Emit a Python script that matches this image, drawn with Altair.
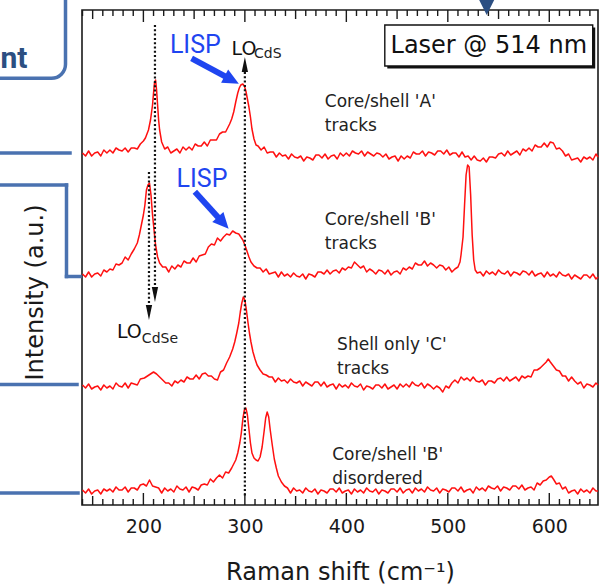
import altair as alt
import pandas as pd

# ---------------- data ----------------
# (Raman shift in cm^-1, stacked intensity in a.u.)
trace_a = [(140,352),(143,349),(146,354),(149,349),(152,352),(155,353),(158,349),(161,355),(164,352),(167,355),
           (170,352),(173,357),(176,355),(179,354),(182,357),(185,353),(188,357),(191,357),(194,356),(197,361),
           (200,364),(202,367),(205,375),(207,385),(209,400),(210,412),(211,423),(212,425),(213,415),(214,400),
           (215,385),(216,375),(218,363),(221,356),(224,358),(227,352),(230,354),(233,356),(236,352),(239,358),
           (242,355),(245,358),(248,355),(251,361),(254,359),(257,359),(260,363),(263,359),(266,365),(269,365),
           (272,365),(275,371),(278,373),(281,373),(283,377),(285,381),(287,386),(289,393),(291,403),(293,412),
           (294.5,417),(296,420),(298,421),(299.5,419),(301,414),(302.5,406),(304,398),(305.5,388),(307,376),(309,366),
           (311,360),(313,359),(316,355),(319,358),(322,352),(325,353),(328,353),(331,348),(334,352),(337,349),
           (340,350),(343,346),(346,351),(349,348),(352,347),(355,349),(358,344),(361,348),(364,347),(367,345),
           (370,350),(373,350),(376,347),(379,351),(382,346),(385,349),(388,350),(391,346),(394,352),(397,349),
           (400,352),(403,349),(406,354),(409,352),(412,351),(415,354),(418,349),(421,353),(424,351),(427,349),
           (430,352),(433,351),(436,348),(439,351),(442,346),(445,348),(448,349),(451,344),(454,349),(457,346),
           (460,349),(463,347),(466,353),(469,351),(472,351),(475,354),(478,349),(481,353),(484,352),(487,350),
           (490,354),(493,354),(496,351),(499,355),(502,350),(505,352),(508,352),(511,348),(514,353),(517,348),
           (520,349),(523,345),(526,349),(529,345),(532,344),(535,347),(538,343),(541,348),(544,348),(547,347),
           (550,351),(553,352),(556,349),(559,354),(562,350),(565,352),(568,354),(571,350),(574,356),(577,354),
           (580,357),(583,354),(586,360),(589,358),(592,358),(595,362),(598,358),(601,363),(604,362),(607,356),
           (610,357),(613,354),(616,349),(619,351),(622,345),(625,346),(628,347),(631,343),(634,348),(637,346),
           (640,348),(643,345),(646,351),(648,348)]

trace_b = [(140,231),(143,228),(146,233),(149,228),(152,231),(155,232),(158,229),(161,235),(164,233),(167,236),
           (170,235),(173,241),(176,240),(179,242),(182,248),(185,245),(188,251),(191,256),(194,262),(196,270),
           (198,280),(200,290),(201.5,300),(203,315),(204.5,320),(206,322),(207.5,310),(209,290),(210.5,275),(212,260),
           (214,248),(216,242),(219,238),(222,238),(225,233),(228,239),(231,236),(234,240),(237,238),(240,244),
           (243,242),(246,242),(249,247),(252,243),(255,249),(258,250),(261,251),(264,258),(267,261),(270,260),
           (273,267),(276,264),(279,268),(282,271),(285,270),(288,274),(291,272),(294,271),(296,268),(298,265),
           (300,260),(302,254),(304,248),(306,243),(309,239),(312,237),(315,237),(318,233),(321,236),(324,231),
           (327,232),(330,233),(333,228),(336,233),(339,229),(342,231),(345,228),(348,232),(351,229),(354,228),
           (357,231),(360,226),(363,231),(366,230),(369,228),(372,233),(375,233),(378,231),(381,235),(384,231),
           (387,234),(390,235),(393,232),(396,237),(399,235),(402,238),(405,237),(408,243),(411,240),(414,237),
           (417,239),(420,233),(423,236),(426,234),(429,231),(432,235),(435,234),(438,231),(441,235),(444,230),
           (447,233),(450,234),(453,231),(456,237),(459,235),(462,238),(465,236),(468,242),(471,240),(474,240),
           (477,244),(480,239),(483,242),(486,240),(489,237),(492,240),(495,239),(498,235),(501,238),(504,233),
           (507,236),(510,238),(512,243),(513,250),(515,268),(516.5,300),(518,330),(519.5,340),(521,338),(522.5,310),
           (524,270),(525.5,245),(527,235),(529,232),(532,233),(535,229),(538,234),(541,231),(544,233),(547,230),
           (550,235),(553,232),(556,231),(559,234),(562,229),(565,233),(568,232),(571,230),(574,234),(577,233),
           (580,230),(583,234),(586,229),(589,231),(592,232),(595,228),(598,233),(601,229),(604,231),(607,228),
           (610,233),(613,230),(616,229),(619,231),(622,226),(625,230),(628,228),(631,226),(634,230),(637,230),
           (640,227),(643,231),(646,226),(648,228)]

trace_c = [(140,120),(143,117),(146,121),(149,116),(152,118),(155,119),(158,115),(161,120),(164,117),(167,119),
           (170,116),(173,122),(176,119),(179,118),(182,122),(185,117),(188,122),(191,121),(194,120),(197,126),
           (201,127),(204,129),(207,131),(210,133),(213,131),(216,128),(219,125),(222,122),(225,122),(228,119),
           (231,124),(234,122),(237,125),(240,123),(243,128),(246,126),(249,126),(252,130),(255,126),(258,131),
           (261,132),(264,129),(267,129),(270,126),(273,125),(276,133),(279,135),(282,142),(285,148),(288,156),
           (290,163),(292,172),(294,182),(295.5,193),(297,202),(298.5,208),(300,205),(301.5,195),(303,183),(304.5,172),
           (306,163),(308,153),(310,146),(312,140),(315,135),(318,131),(321,130),(324,128),(327,128),(330,123),
           (333,127),(336,124),(339,125),(342,122),(345,126),(348,123),(351,122),(354,124),(357,119),(360,123),
           (363,121),(366,119),(369,123),(372,123),(375,119),(378,123),(381,118),(384,120),(387,121),(390,116),
           (393,121),(396,118),(399,120),(402,117),(405,122),(408,119),(411,118),(414,121),(417,115),(420,119),
           (423,118),(426,116),(429,120),(432,120),(435,117),(438,121),(441,116),(444,118),(447,120),(450,116),
           (453,121),(456,118),(459,121),(462,118),(465,123),(468,120),(471,119),(474,122),(477,117),(480,121),
           (483,119),(486,116),(489,119),(492,117),(495,113),(498,119),(501,117),(504,122),(507,125),(510,122),
           (513,128),(516,125),(519,127),(522,124),(525,128),(528,124),(531,123),(534,125),(537,120),(540,124),
           (543,124),(546,122),(549,126),(552,127),(555,124),(558,128),(561,124),(564,126),(567,128),(570,124),
           (573,129),(576,127),(579,129),(582,128),(585,135),(588,135),(591,137),(594,140),(597,143),(599,146),
           (601,143),(604,139),(607,135),(610,134),(613,129),(616,129),(619,124),(622,128),(625,124),(628,121),
           (631,123),(634,117),(637,121),(640,120),(643,118),(646,122),(648,120)]

trace_d = [(140,15),(143,12),(146,16),(149,11),(152,14),(155,15),(158,11),(161,16),(164,14),(167,16),
           (170,13),(173,18),(176,15),(179,15),(182,18),(185,13),(188,17),(191,17),(194,15),(197,20),
           (200,21),(203,19),(206,25),(209,19),(212,18),(215,17),(218,12),(221,17),(224,14),(227,16),
           (230,13),(233,19),(236,16),(239,15),(242,18),(245,13),(248,18),(251,17),(254,15),(257,20),
           (260,21),(263,20),(266,26),(269,23),(272,27),(275,30),(278,27),(281,33),(284,32),(287,37),
           (289,41),(291,45),(293,52),(295,62),(296.5,72),(298,86),(299.5,95),(301,97),(302.5,90),(304,76),
           (305.5,62),(307,52),(309,47),(311,45),(313,44),(315,48),(317,58),(319,74),(320.5,87),(322,93),
           (323.5,88),(325,75),(327,60),(329,46),(331,37),(333,29),(336,23),(339,19),(342,17),(345,12),
           (348,17),(351,14),(354,15),(357,12),(360,17),(363,14),(366,13),(369,16),(372,11),(375,15),
           (378,14),(381,12),(384,16),(387,16),(390,13),(393,17),(396,12),(399,14),(402,15),(405,11),
           (408,16),(411,13),(414,15),(417,12),(420,17),(423,14),(426,13),(429,16),(432,11),(435,15),
           (438,14),(441,12),(444,16),(447,16),(450,13),(453,17),(456,12),(459,15),(462,16),(465,12),
           (468,17),(471,14),(474,16),(477,13),(480,18),(483,15),(486,14),(489,17),(492,12),(495,16),
           (498,15),(501,13),(504,17),(507,17),(510,14),(513,18),(516,13),(519,15),(522,16),(525,12),
           (528,18),(531,15),(534,17),(537,14),(540,19),(543,17),(546,16),(549,19),(552,14),(555,18),
           (558,17),(561,15),(564,19),(567,19),(570,16),(573,20),(576,15),(579,17),(582,18),(585,15),
           (588,22),(591,20),(594,24),(597,25),(600,28),(602,29),(604,26),(607,21),(610,22),(613,16),
           (616,18),(619,12),(622,14),(625,15),(628,11),(631,16),(634,13),(637,15),(640,12),(643,17),
           (646,14),(648,14)]

trace_names = ["Core/shell 'A' tracks", "Core/shell 'B' tracks",
               "Shell only 'C' tracks", "Core/shell 'B' disordered"]

# sample labels next to each spectrum
annot_text = ["Core/shell 'A'\ntracks", "Core/shell 'B'\ntracks",
              "Shell only 'C'\ntracks", "Core/shell 'B'\ndisordered"]
annot_x = [378.8, 378.8, 390.9, 386.0]
annot_y = [398, 280, 155, 45]

# dotted guide lines (LO phonon positions)
guide_x = [211.4, 205.5, 300]
guide_y = [480, 333, 433]
guide_y2 = [215, 197, 8]
head_x = [211.4, 205.5, 300]
head_y = [210.5, 192.5, 440.5]
head_angle = [180, 180, 0]

# LO labels with subscripts
lo_x = [286.9, 173.9]
lo_y = [450, 167]
sub_text = ["CdS", "CdSe"]
sub_x = [309.0, 198.5]
sub_y = [447, 162]

# LISP labels and blue arrows
lisp_x = [226.1, 232.7]
lisp_y = [452, 318]
arrow_x = [247.5, 250.7]
arrow_y = [446.7, 313.3]
arrow_x2 = [284.7, 276.9]
arrow_y2 = [426.4, 284.1]
arrow_angle = [118, 138]

# laser box
box_x, box_x2, box_y, box_y2 = [437.9], [642.8], [439], [480]
box_text = ["Laser @ 514 nm"]

# axis ticks
major_ticks = [200, 300, 400, 500, 600]
mid_ticks = [150, 250, 350, 450, 550]
minor_ticks = [140, 160, 170, 180, 190, 210, 220, 230, 240, 260, 270, 280, 290, 310, 320, 330, 340,
               360, 370, 380, 390, 410, 420, 430, 440, 460, 470, 480, 490, 510, 520, 530, 540,
               560, 570, 580, 590, 610, 620, 630, 640]

# ---------------- chart ----------------
W, H = 516, 495
FONT = "DejaVu Sans"
INK = "#1a1a1a"
RED = "#ff1010"
BLUE = "#1f45f0"
DECO = "#4a72b0"
DECO_DARK = "#2c4f82"

xs = alt.Scale(domain=[139.5, 648], nice=False, zero=False)
ys = alt.Scale(domain=[0, 495], nice=False, zero=False)

X_AXIS = alt.Axis(
    values=major_ticks, ticks=False, tickSize=0, domain=False, grid=False,
    labelFont=FONT, labelFontSize=19, labelColor=INK, labelPadding=12,
    title="Raman shift (cm⁻¹)", titleFont=FONT, titleFontSize=24, titleFontWeight="normal",
    titleColor=INK, titleY=74, titleBaseline="alphabetic")
Y_AXIS = alt.Axis(
    labels=False, ticks=False, domain=False, grid=False,
    title="Intensity (a.u.)", titleFont=FONT, titleFontSize=24, titleFontWeight="normal",
    titleColor=INK, titleX=-47, titleY=282, titleAngle=270, titleAlign="center",
    titleBaseline="middle")


def xq(f):
    return alt.X(f + ":Q", scale=xs, axis=X_AXIS)


def yq(f):
    return alt.Y(f + ":Q", scale=ys, axis=Y_AXIS)


rows = []
for name, tr in zip(trace_names, [trace_a, trace_b, trace_c, trace_d]):
    for s, i in tr:
        rows.append({"shift": s, "intensity": i, "trace": name})
spectra = pd.DataFrame(rows)

spectra_chart = alt.Chart(spectra).mark_line(color=RED, strokeWidth=1.5, strokeJoin="round").encode(
    x=xq("shift"), y=yq("intensity"), detail="trace:N")


def tick_layer(vals, length):
    df = pd.DataFrame({"t": vals})
    base = alt.Chart(df).mark_rule(color=INK, strokeWidth=1.4)
    bottom = base.encode(x=xq("t"), y=alt.value(H), y2=alt.value(H - length))
    top = base.encode(x=xq("t"), y=alt.value(0), y2=alt.value(length))
    return bottom + top


ticks = tick_layer(major_ticks, 12) + tick_layer(mid_ticks, 9) + tick_layer(minor_ticks, 6)

guides_df = pd.DataFrame({"x": guide_x, "y": guide_y, "y2": guide_y2})
guides = alt.Chart(guides_df).mark_rule(color="#111", strokeWidth=2.2, strokeDash=[2, 2.3]).encode(
    x=xq("x"), y=yq("y"), y2="y2:Q")

heads_df = pd.DataFrame({"x": head_x, "y": head_y, "a": head_angle})
heads = alt.Chart(heads_df).mark_point(
    shape="M0,-1L0.42,1L-0.42,1Z", filled=True, color="#111", size=225, opacity=1).encode(
    x=xq("x"), y=yq("y"), angle=alt.Angle("a:Q", scale=None))

arrows_df = pd.DataFrame({"x": arrow_x, "y": arrow_y, "x2": arrow_x2, "y2": arrow_y2, "a": arrow_angle})
arrow_shafts = alt.Chart(arrows_df).mark_rule(color=BLUE, strokeWidth=6).encode(
    x=xq("x"), y=yq("y"), x2="x2:Q", y2="y2:Q")
arrow_heads = alt.Chart(arrows_df).mark_point(
    shape="M0,-1L0.7,0.5L-0.7,0.5Z", filled=True, color=BLUE, size=460, opacity=1).encode(
    x=xq("x2"), y=yq("y2"), angle=alt.Angle("a:Q", scale=None))

lisp_df = pd.DataFrame({"x": lisp_x, "y": lisp_y, "t": ["LISP", "LISP"]})
lisp = alt.Chart(lisp_df).mark_text(
    font="Roboto", fontSize=25, color=BLUE, align="left",
    baseline="alphabetic").encode(x=xq("x"), y=yq("y"), text="t:N")

lo_df = pd.DataFrame({"x": lo_x, "y": lo_y, "t": ["LO", "LO"]})
lo = alt.Chart(lo_df).mark_text(font=FONT, fontSize=19, color="#111", align="left",
                                baseline="alphabetic").encode(x=xq("x"), y=yq("y"), text="t:N")
sub_df = pd.DataFrame({"x": sub_x, "y": sub_y, "t": sub_text})
sub = alt.Chart(sub_df).mark_text(font=FONT, fontSize=14, color="#222", align="left",
                                  baseline="alphabetic").encode(x=xq("x"), y=yq("y"), text="t:N")

annot_df = pd.DataFrame({"x": annot_x, "y": annot_y, "t": annot_text})
annot = alt.Chart(annot_df).mark_text(
    font=FONT, fontSize=17, color="#222", align="left", baseline="alphabetic",
    lineBreak="\n", lineHeight=24).encode(x=xq("x"), y=yq("y"), text="t:N")

box_df = pd.DataFrame({"x": box_x, "x2": box_x2, "y": box_y, "y2": box_y2, "t": box_text})
box_shadow = alt.Chart(box_df).mark_rect(
    fill="#111", xOffset=2.5, x2Offset=2.5, yOffset=2.5, y2Offset=2.5).encode(
    x=xq("x"), x2="x2:Q", y=yq("y"), y2="y2:Q")
box = alt.Chart(box_df).mark_rect(fill="white", stroke="#111", strokeWidth=1.4).encode(
    x=xq("x"), x2="x2:Q", y=yq("y"), y2="y2:Q")
box_label = alt.Chart(box_df).mark_text(
    font=FONT, fontSize=24, color="#111", align="center", baseline="middle").encode(
    x=xq("mx"), y=yq("my"), text="t:N"
).transform_calculate(mx="(datum.x + datum.x2) / 2", my="(datum.y + datum.y2) / 2")

# decorative slide elements around the figure (outside the plot area)
one = pd.DataFrame({"k": [0]})
deco_box = alt.Chart(one).mark_rect(
    fill="white", fillOpacity=0, stroke=DECO, strokeWidth=3.5, cornerRadius=14).encode(
    x=alt.value(-110), x2=alt.value(-16.5), y=alt.value(-40), y2=alt.value(68.3))
deco_text = alt.Chart(one).mark_text(
    text="nt", font="Roboto", fontWeight="bold", fontSize=30, color=DECO_DARK,
    align="left", baseline="alphabetic").encode(x=alt.value(-81.5), y=alt.value(58))


def hline(x1, x2, y):
    return alt.Chart(one).mark_rule(color=DECO, strokeWidth=3.5, strokeCap="square").encode(
        x=alt.value(x1), x2=alt.value(x2), y=alt.value(y))


deco_lines = (
    hline(-82, -12, 143)
    + hline(-82, -15.5, 175)
    + alt.Chart(one).mark_rule(color=DECO, strokeWidth=3.5, strokeCap="square").encode(
        x=alt.value(-15.5), y=alt.value(175), y2=alt.value(266.5))
    + hline(-15.5, -2, 266.5)
    + hline(-82, -5, 374.5)
    + hline(-82, -4, 483)
)
deco_tri = alt.Chart(one).mark_point(
    shape="M-1,-1L1,-1L0,1Z", filled=True, color=DECO_DARK, size=289, opacity=1).encode(
    x=alt.value(404.7), y=alt.value(-3.5))

chart = alt.layer(
    spectra_chart, deco_box, deco_text, deco_lines,
    guides, heads, ticks,
    arrow_shafts, arrow_heads, lisp, lo, sub, annot,
    box_shadow, box, box_label, deco_tri,
).properties(
    width=W, height=H,
    autosize=alt.AutoSizeParams(type="none"),
    padding={"left": 82, "top": 10, "right": 6, "bottom": 81},
).configure(background="white").configure_view(stroke=INK, strokeWidth=1.6)

chart.save("out.html", embed_options={"renderer": "svg", "actions": False})
